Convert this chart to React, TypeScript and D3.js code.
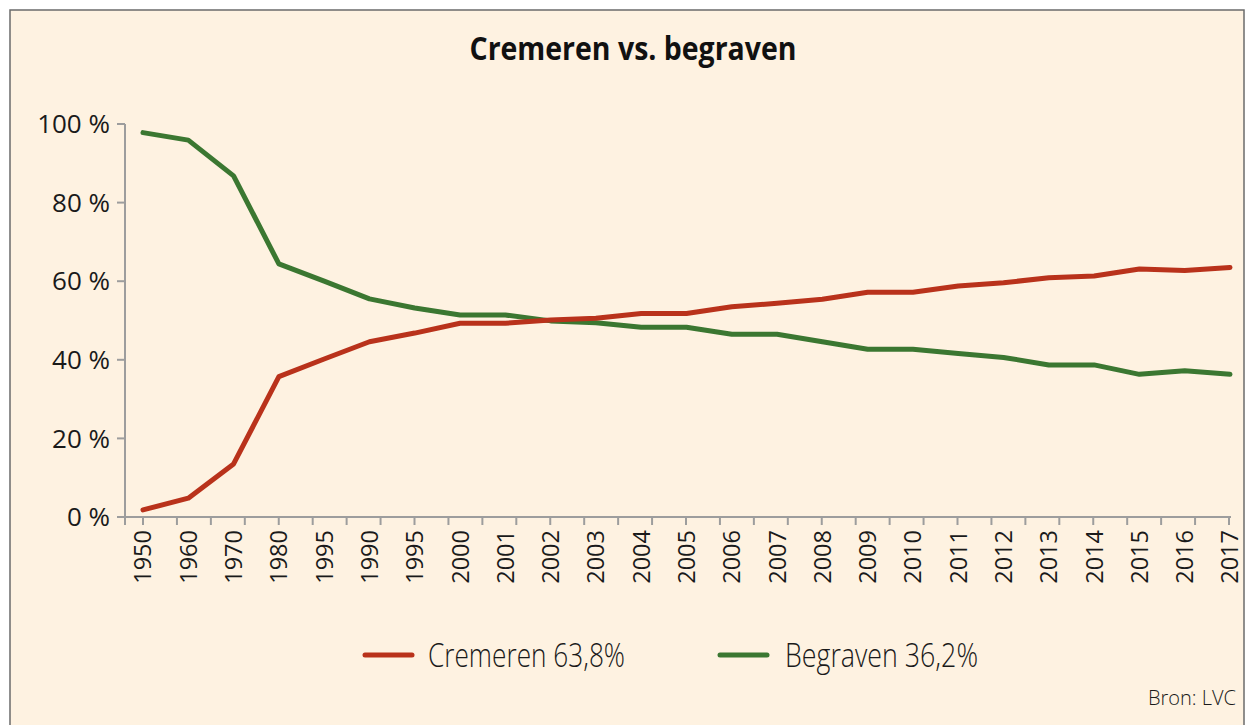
import React from "react";
import * as d3 from "d3";

const categories = [
  "1950", "1960", "1970", "1980", "1995", "1990", "1995", "2000", "2001", "2002",
  "2003", "2004", "2005", "2006", "2007", "2008", "2009", "2010", "2011", "2012",
  "2013", "2014", "2015", "2016", "2017",
];
const cremeren = [
  1.8, 4.8, 13.5, 35.7, 40.2, 44.6, 46.8, 49.3, 49.3, 50.1,
  50.6, 51.8, 51.8, 53.5, 54.4, 55.4, 57.2, 57.2, 58.8, 59.6,
  60.9, 61.3, 63.1, 62.7, 63.5,
];
const begraven = [
  97.8, 95.9, 86.8, 64.4, 60.0, 55.5, 53.2, 51.4, 51.4, 49.9,
  49.4, 48.3, 48.3, 46.5, 46.5, 44.6, 42.7, 42.7, 41.6, 40.6,
  38.7, 38.7, 36.3, 37.2, 36.3,
];
const yTicks = [0, 20, 40, 60, 80, 100];
const xTickCount = 33;
const title = "Cremeren vs. begraven";
const legendItems = [
  { label: "Cremeren 63,8%", color: "#b9321b" },
  { label: "Begraven 36,2%", color: "#3b7731" },
];
const source = "Bron: LVC";

const W = 1246;
const H = 725;
const BG = "#fef2e1";
const AXIS = "#9d9d9d";
const FONT = "'Open Sans', 'Noto Sans', sans-serif";

export default function App() {
  const idx = d3.range(categories.length);
  const x = d3.scalePoint<number>().domain(idx).range([143, 1230]);
  const y = d3.scaleLinear().domain([0, 100]).range([517, 124]);
  const tickX = d3.scaleLinear().domain([0, xTickCount - 1]).range([143, 1229]);

  const line = d3
    .line<number>()
    .x((_, i) => x(i) as number)
    .y((d) => y(d));

  const series = [
    { values: begraven, color: legendItems[1].color },
    { values: cremeren, color: legendItems[0].color },
  ];

  const legendX = [365, 720];
  const legendTextX = [428, 785];
  const legendW = [197, 193];

  return (
    <svg
      width={W}
      height={H}
      style={{ position: "absolute", left: 0, top: 0, background: "#fff" }}
    >
      <rect x={0} y={0} width={W} height={H} fill="#fff" />
      <rect x={10} y={10} width={1234} height={730} fill={BG} stroke="#6b6b6b" strokeWidth={1.5} />

      <text
        x={633}
        y={60}
        textAnchor="middle"
        fontFamily={FONT}
        fontWeight={700}
        fontSize={33}
        fill="#111"
        textLength={327}
        lengthAdjust="spacingAndGlyphs"
      >
        {title}
      </text>

      {/* y axis */}
      <line x1={125} x2={125} y1={y(100)} y2={y(0)} stroke={AXIS} strokeWidth={2} />
      {yTicks.map((t) => (
        <g key={t}>
          <line x1={117} x2={125} y1={y(t)} y2={y(t)} stroke={AXIS} strokeWidth={2} />
          <text
            x={110}
            y={y(t)}
            dy="0.35em"
            textAnchor="end"
            fontFamily={FONT}
            fontSize={26}
            fill="#1a1a1a"
          >
            {`${t} %`}
          </text>
        </g>
      ))}

      {/* x axis */}
      <line x1={117} x2={1231} y1={y(0)} y2={y(0)} stroke={AXIS} strokeWidth={2} />
      <line x1={125} x2={125} y1={y(0)} y2={y(0) + 8} stroke={AXIS} strokeWidth={2} />
      {d3.range(xTickCount).map((i) => (
        <line
          key={i}
          x1={tickX(i)}
          x2={tickX(i)}
          y1={y(0)}
          y2={y(0) + 8}
          stroke={AXIS}
          strokeWidth={2}
        />
      ))}
      {categories.map((c, i) => (
        <text
          key={i}
          transform={`translate(${x(i)},530) rotate(-90)`}
          textAnchor="end"
          dy="0.36em"
          fontFamily={FONT}
          fontSize={23.5}
          fill="#1a1a1a"
        >
          {c}
        </text>
      ))}

      {series.map((s, k) => (
        <path
          key={k}
          d={line(s.values) || ""}
          fill="none"
          stroke={s.color}
          strokeWidth={5}
          strokeLinejoin="round"
          strokeLinecap="round"
        />
      ))}

      {legendItems.map((item, k) => (
        <g key={item.label}>
          <line
            x1={legendX[k]}
            x2={legendX[k] + 47}
            y1={655}
            y2={655}
            stroke={item.color}
            strokeWidth={5}
            strokeLinecap="round"
          />
          <text
            x={legendTextX[k]}
            y={667}
            fontFamily={FONT}
            fontWeight={300}
            fontSize={33}
            fill="#1a1a1a"
            textLength={legendW[k]}
            lengthAdjust="spacingAndGlyphs"
          >
            {item.label}
          </text>
        </g>
      ))}

      <text
        x={1236}
        y={705}
        textAnchor="end"
        fontFamily={FONT}
        fontWeight={300}
        fontSize={20}
        fill="#1a1a1a"
      >
        {source}
      </text>
    </svg>
  );
}
